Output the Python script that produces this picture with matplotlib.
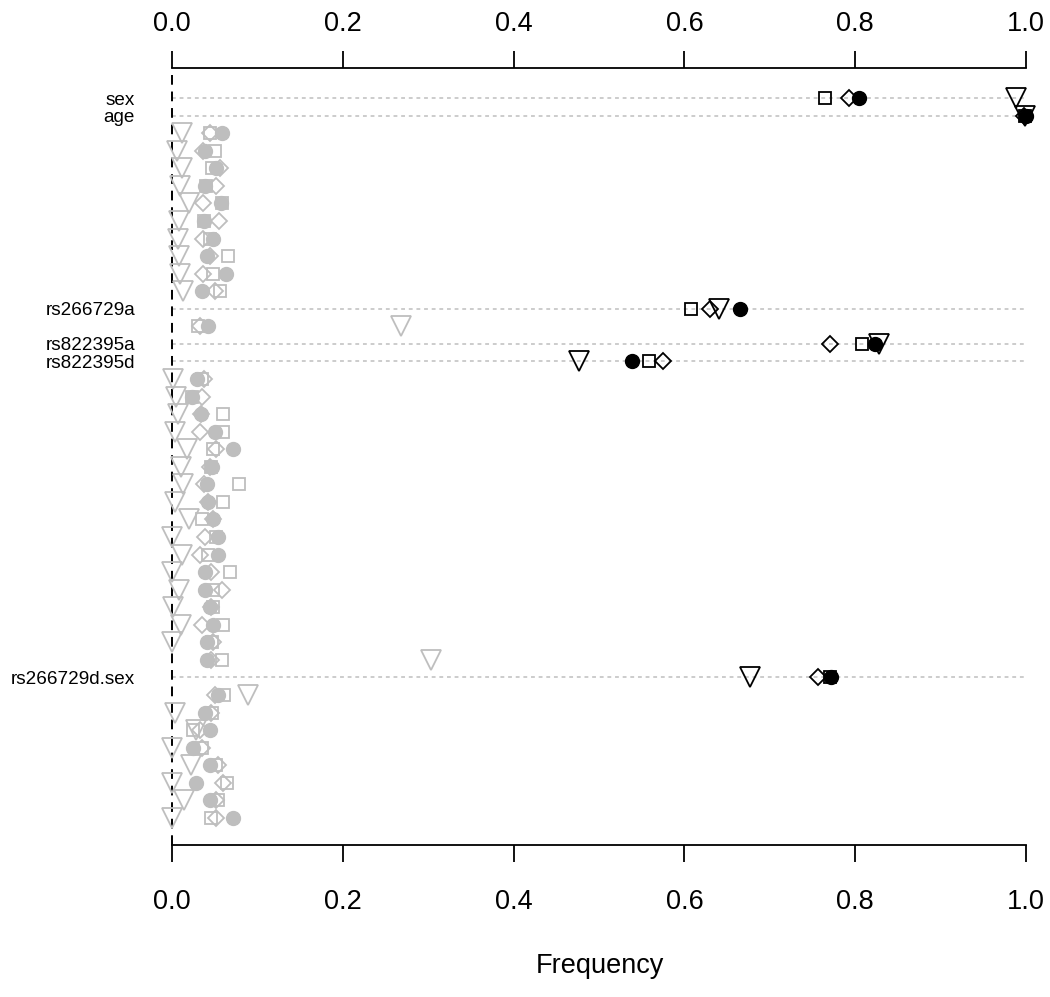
import numpy as np
import matplotlib
matplotlib.use("Agg")
import matplotlib.pyplot as plt

plt.rcParams['font.family'] = ['Liberation Sans', 'DejaVu Sans']

# row labels (empty = unlabelled, drawn in gray)
labels = ['sex', 'age'] + [''] * 10 + ['rs266729a', '', 'rs822395a', 'rs822395d'] \
    + [''] * 17 + ['rs266729d.sex'] + [''] * 8

# frequencies per row for the four series
circle = [0.804, 1.000, 0.058, 0.039, 0.052, 0.039, 0.057, 0.037, 0.048, 0.041,
          0.063, 0.035, 0.665, 0.042, 0.823, 0.539, 0.029, 0.023, 0.034, 0.050,
          0.071, 0.047, 0.041, 0.042, 0.048, 0.054, 0.054, 0.039, 0.039, 0.044,
          0.048, 0.041, 0.041, 0.772, 0.054, 0.039, 0.044, 0.025, 0.044, 0.028,
          0.044, 0.071]
square = [0.765, 0.999, 0.045, 0.050, 0.047, 0.040, 0.058, 0.037, 0.044, 0.066,
          0.048, 0.056, 0.608, 0.030, 0.808, 0.559, 0.035, 0.023, 0.060, 0.060,
          0.048, 0.046, 0.078, 0.060, 0.035, 0.052, 0.042, 0.068, 0.048, 0.048,
          0.060, 0.047, 0.058, 0.771, 0.061, 0.047, 0.025, 0.035, 0.052, 0.064,
          0.054, 0.046]
diamond = [0.793, 0.998, 0.045, 0.036, 0.056, 0.052, 0.036, 0.055, 0.036, 0.044,
           0.036, 0.050, 0.630, 0.033, 0.770, 0.575, 0.037, 0.035, 0.034, 0.033,
           0.052, 0.044, 0.037, 0.042, 0.048, 0.039, 0.033, 0.046, 0.058, 0.046,
           0.035, 0.048, 0.046, 0.757, 0.050, 0.046, 0.033, 0.035, 0.054, 0.060,
           0.052, 0.052]
triangle = [0.988, 0.999, 0.012, 0.006, 0.012, 0.009, 0.020, 0.008, 0.007, 0.008,
            0.009, 0.013, 0.640, 0.268, 0.828, 0.477, 0.001, 0.005, 0.007, 0.003,
            0.018, 0.011, 0.013, 0.003, 0.020, 0.000, 0.012, 0.000, 0.008, 0.001,
            0.011, 0.000, 0.303, 0.677, 0.089, 0.003, 0.028, 0.000, 0.022, 0.000,
            0.014, 0.000]

xticks = [0.0, 0.2, 0.4, 0.6, 0.8, 1.0]
gray = '#bebebe'

n = len(labels)
rows = np.arange(n)
colors = ['black' if lab else gray for lab in labels]

fig = plt.figure(figsize=(10.5, 9.97), dpi=100)
ax = fig.add_axes([163.5 / 1050, 1 - 845 / 997, 871 / 1050, 777 / 997])
ax.set_xlim(-0.01, 1.01)
ax.set_ylim(n - 1 + 1.54, -1.71)

# dotted guide lines for the labelled rows
for r, lab in zip(rows, labels):
    if lab:
        ax.plot([0, 1], [r, r], color=gray, lw=1.1, ls=(0, (2.5, 2.5)), zorder=1)

# dashed reference at zero
ax.axvline(0, color='black', lw=1.4, ls=(0, (5, 3.5)), zorder=1)

for r, c in zip(rows, colors):
    ax.plot(circle[r], r, 'o', ms=10, color=c, mec=c, zorder=2, clip_on=False)
    ax.plot(square[r], r, 's', ms=8.5, mfc='none', mec=c, mew=1.3, zorder=3, clip_on=False)
    ax.plot(diamond[r], r, 'D', ms=8.5, mfc='none', mec=c, mew=1.3, zorder=3, clip_on=False)
    ax.plot(triangle[r], r, 'v', ms=14, mfc='none', mec=c, mew=1.3, zorder=3, clip_on=False)

for side in ['left', 'right']:
    ax.spines[side].set_visible(False)
ax.spines['bottom'].set_bounds(0, 1)
ax.spines['bottom'].set_linewidth(1.3)
ax.spines['top'].set_visible(False)

ax.set_xticks(xticks)
ax.set_xticklabels([f'{t:.1f}' for t in xticks])
ax.tick_params(axis='x', direction='out', length=12, width=1.3, labelsize=19.5, pad=20)

top = ax.secondary_xaxis('top')
top.set_xticks(xticks)
top.set_xticklabels([f'{t:.1f}' for t in xticks])
top.spines['top'].set_bounds(0, 1)
top.spines['top'].set_linewidth(1.3)
top.tick_params(axis='x', direction='out', length=12, width=1.3, labelsize=19.5, pad=10)

lab_rows = [r for r, lab in zip(rows, labels) if lab]
ax.set_yticks(lab_rows)
ax.set_yticklabels([labels[r] for r in lab_rows])
ax.tick_params(axis='y', length=0, labelsize=13.6, pad=20.5)

fig.text(600 / 1050, 1 - 966 / 997, 'Frequency', ha='center', va='center', fontsize=19.5)

fig.savefig('out.png', dpi=100)
